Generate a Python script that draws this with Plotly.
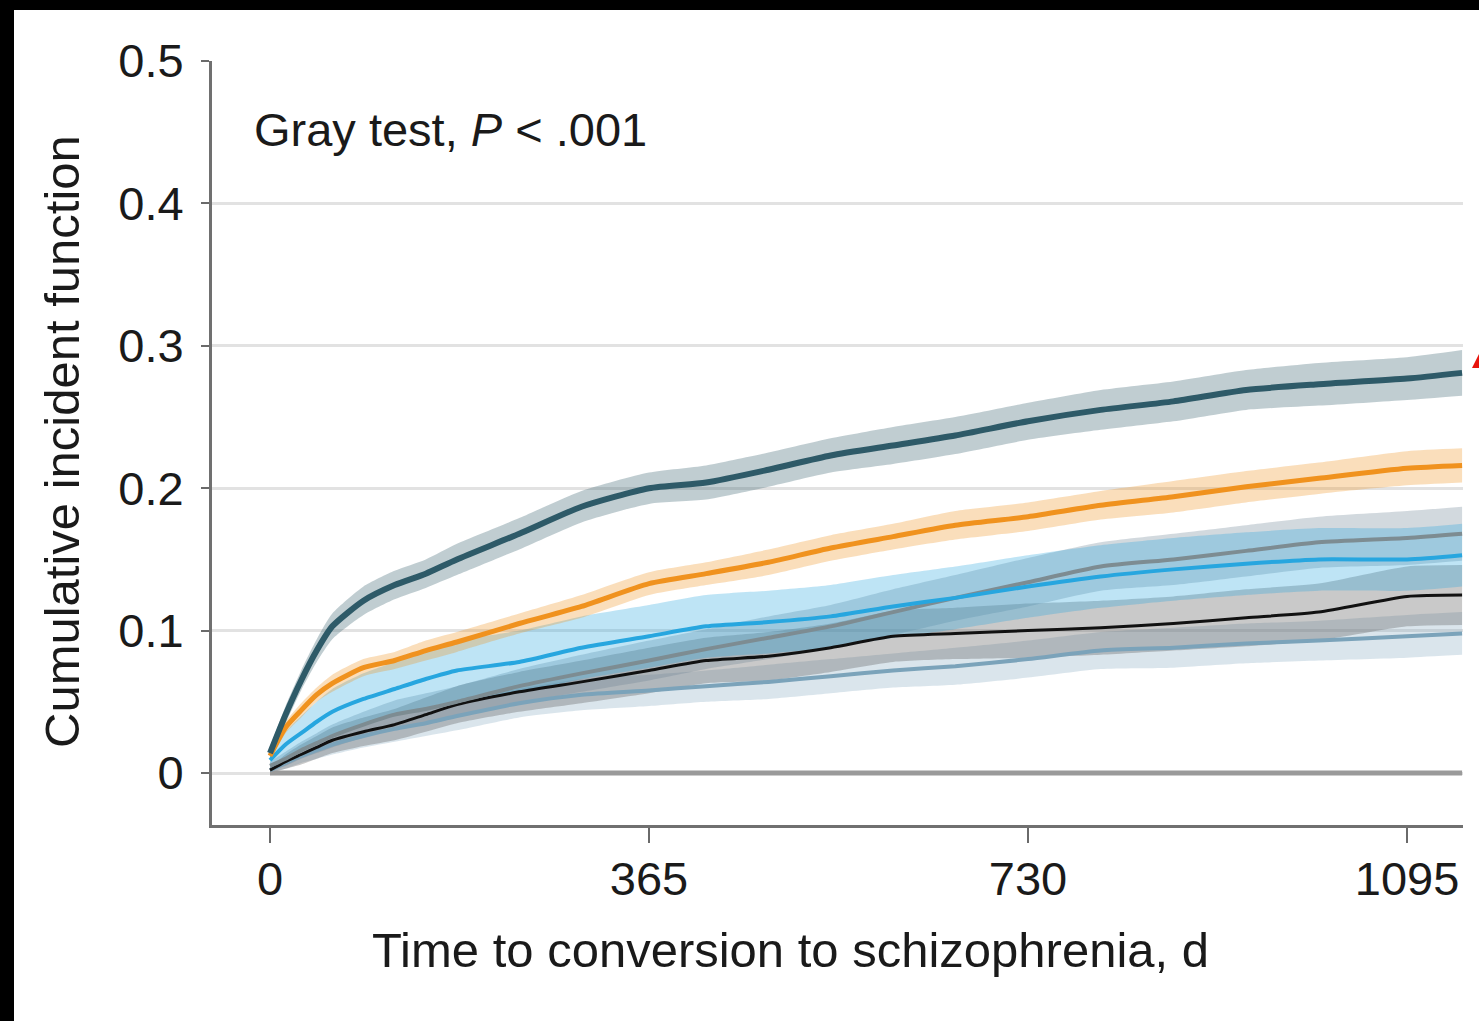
import plotly.graph_objects as go

# ---- data ----
days = [0, 15, 30, 45, 60, 90, 120, 150, 180, 240, 300, 365, 420, 480, 540, 600,
        660, 730, 800, 870, 940, 1010, 1095, 1148]

teal = [0.014, 0.041, 0.065, 0.086, 0.103, 0.121, 0.132, 0.140, 0.150, 0.168, 0.187, 0.200,
        0.204, 0.213, 0.223, 0.230, 0.237, 0.247, 0.255, 0.261, 0.269, 0.273, 0.277, 0.281]
teal_hw = [0.004, 0.006, 0.007, 0.008, 0.009, 0.010, 0.010, 0.010, 0.011, 0.011, 0.011, 0.011,
           0.012, 0.012, 0.012, 0.013, 0.013, 0.013, 0.014, 0.014, 0.014, 0.015, 0.015, 0.016]

orange = [0.012, 0.032, 0.044, 0.055, 0.063, 0.074, 0.079, 0.086, 0.092, 0.105, 0.117, 0.133,
          0.140, 0.148, 0.158, 0.166, 0.174, 0.180, 0.188, 0.194, 0.201, 0.207, 0.214, 0.216]
orange_hw = [0.003, 0.004, 0.005, 0.005, 0.006, 0.006, 0.006, 0.007, 0.007, 0.007, 0.008, 0.008,
             0.008, 0.009, 0.009, 0.009, 0.010, 0.010, 0.010, 0.011, 0.011, 0.011, 0.012, 0.012]

blue = [0.009, 0.020, 0.028, 0.036, 0.043, 0.052, 0.059, 0.066, 0.072, 0.078, 0.088, 0.096,
        0.103, 0.106, 0.110, 0.117, 0.123, 0.131, 0.138, 0.143, 0.147, 0.150, 0.150, 0.153]
blue_hw = [0.004, 0.009, 0.012, 0.014, 0.016, 0.018, 0.019, 0.020, 0.021, 0.022, 0.022, 0.022,
           0.022, 0.022, 0.022, 0.022, 0.022, 0.022, 0.022, 0.022, 0.022, 0.022, 0.022, 0.022]

gray = [0.005, 0.010, 0.016, 0.021, 0.026, 0.034, 0.041, 0.045, 0.050, 0.061, 0.070, 0.079,
        0.087, 0.095, 0.103, 0.113, 0.123, 0.134, 0.145, 0.150, 0.156, 0.162, 0.165, 0.168]
gray_hw = [0.003, 0.005, 0.006, 0.007, 0.008, 0.009, 0.010, 0.011, 0.011, 0.012, 0.013, 0.014,
           0.014, 0.015, 0.015, 0.016, 0.016, 0.017, 0.017, 0.018, 0.018, 0.018, 0.019, 0.019]

black = [0.002, 0.008, 0.013, 0.018, 0.023, 0.029, 0.034, 0.041, 0.048, 0.057, 0.064, 0.072,
         0.079, 0.082, 0.088, 0.096, 0.098, 0.100, 0.102, 0.105, 0.109, 0.113, 0.124, 0.125]
black_hw = [0.002, 0.005, 0.007, 0.008, 0.009, 0.010, 0.011, 0.012, 0.013, 0.014, 0.015, 0.016,
            0.016, 0.017, 0.017, 0.018, 0.018, 0.019, 0.019, 0.019, 0.020, 0.020, 0.021, 0.021]

steel = [0.002, 0.007, 0.012, 0.016, 0.020, 0.026, 0.031, 0.035, 0.040, 0.049, 0.055, 0.058,
         0.061, 0.064, 0.068, 0.072, 0.075, 0.080, 0.086, 0.088, 0.091, 0.093, 0.096, 0.098]
steel_hw = [0.002, 0.004, 0.005, 0.006, 0.007, 0.008, 0.009, 0.009, 0.010, 0.010, 0.011, 0.011,
            0.011, 0.012, 0.012, 0.012, 0.013, 0.013, 0.013, 0.014, 0.014, 0.014, 0.015, 0.015]

zero_group = [0.0] * len(days)

x_ticks = [0, 365, 730, 1095]
y_ticks = [0, 0.1, 0.2, 0.3, 0.4, 0.5]
y_ticklabels = ["0", "0.1", "0.2", "0.3", "0.4", "0.5"]

# ---- styling ----
series = [
    # name, values, half-widths, line colour, band colour, line width
    ("steel", steel, steel_hw, "#7ba3ba", "rgba(123,163,186,0.28)", 4),
    ("black", black, black_hw, "#111111", "rgba(90,90,90,0.33)", 3),
    ("gray", gray, gray_hw, "#7d8c92", "rgba(105,130,145,0.30)", 4),
    ("blue", blue, blue_hw, "#27a6df", "rgba(39,166,223,0.30)", 4),
    ("orange", orange, orange_hw, "#f0921e", "rgba(240,146,30,0.30)", 5),
    ("teal", teal, teal_hw, "#2e5a68", "rgba(46,90,104,0.30)", 6),
]

FONT = "Liberation Sans, Arial, sans-serif"
SHAPE = dict(shape="spline", smoothing=0.6)
fig = go.Figure()

for name, vals, hw, lc, bc, lw in series:
    lo = [v - h for v, h in zip(vals, hw)]
    hi = [v + h for v, h in zip(vals, hw)]
    fig.add_trace(go.Scatter(x=days, y=lo, mode="lines", line=dict(width=0, **SHAPE),
                             hoverinfo="skip", showlegend=False))
    fig.add_trace(go.Scatter(x=days, y=hi, mode="lines", line=dict(width=0, **SHAPE),
                             fill="tonexty", fillcolor=bc, hoverinfo="skip", showlegend=False))

fig.add_trace(go.Scatter(x=days, y=zero_group, mode="lines",
                         line=dict(color="#9a9a9a", width=5), showlegend=False))

for name, vals, hw, lc, bc, lw in series:
    fig.add_trace(go.Scatter(x=days, y=vals, mode="lines", name=name,
                             line=dict(color=lc, width=lw, **SHAPE), showlegend=False))

W, H = 1479, 1021
L, R, T, B = 212, 16, 61, 196
PW, PH = W - L - R, H - T - B


def px(xp):
    return (xp - L) / PW


def py(yp):
    return (H - B - yp) / PH


shapes = [
    # black frame edges of the screenshot
    dict(type="rect", xref="paper", yref="paper", x0=px(0), x1=px(W), y0=py(10), y1=py(0),
         fillcolor="black", line=dict(width=0), layer="above"),
    dict(type="rect", xref="paper", yref="paper", x0=px(0), x1=px(14), y0=py(H), y1=py(0),
         fillcolor="black", line=dict(width=0), layer="above"),
    # small red mark cut at the right edge
    dict(type="path", xref="paper", yref="paper",
         path=f"M {px(1472)} {py(368)} L {px(1479)} {py(354)} L {px(1479)} {py(368)} Z",
         fillcolor="#e8140c", line=dict(width=0), layer="above"),
]

fig.update_layout(
    width=W, height=H,
    margin=dict(l=L, r=R, t=T, b=B, pad=0),
    paper_bgcolor="white", plot_bgcolor="white",
    font=dict(family=FONT, color="#1a1a1a"),
    showlegend=False,
    shapes=shapes,
    xaxis=dict(
        range=[(L - 270) / 1.0384, (L + PW - 270) / 1.0384],
        tickvals=x_ticks, ticktext=[str(v) for v in x_ticks],
        ticks="outside", ticklen=15, tickwidth=2, tickcolor="#6a6a6a",
        showline=True, linecolor="#707070", linewidth=3,
        showgrid=False, zeroline=False, ticklabelstandoff=-4,
        tickfont=dict(size=47, family=FONT, color="#1a1a1a"),
    ),
    yaxis=dict(
        range=[-0.0365, 0.5],
        tickvals=y_ticks, ticktext=y_ticklabels,
        ticks="outside", ticklen=8, tickwidth=2, tickcolor="#6a6a6a",
        showline=True, linecolor="#707070", linewidth=3,
        showgrid=True, gridcolor="#e2e2e2", gridwidth=2.5, zeroline=False,
        ticklabelstandoff=8,
        tickfont=dict(size=47, family=FONT, color="#1a1a1a"),
    ),
    annotations=[
        dict(text="Gray test, <i>P</i> < .001", xref="paper", yref="paper",
             x=px(252), y=py(130), xanchor="left", yanchor="middle", showarrow=False,
             font=dict(size=47, family=FONT, color="#1a1a1a")),
        dict(text="Time to conversion to schizophrenia, d", xref="paper", yref="paper",
             x=px(790), y=py(950), xanchor="center", yanchor="middle", showarrow=False,
             font=dict(size=49, family=FONT, color="#1a1a1a")),
        dict(text="Cumulative incident function", xref="paper", yref="paper",
             x=px(62), y=py(442), xanchor="center", yanchor="middle", showarrow=False,
             textangle=-90, font=dict(size=49, family=FONT, color="#1a1a1a")),
    ],
)

fig.write_html("out.html", config={"displayModeBar": False},
               post_script="document.body.style.margin='0';")
